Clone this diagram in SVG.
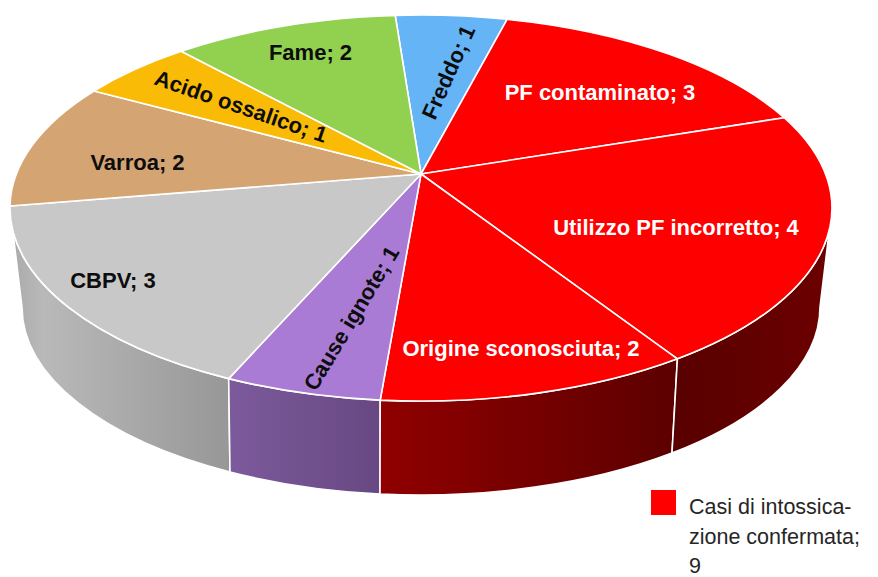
<svg xmlns="http://www.w3.org/2000/svg" width="878" height="577" viewBox="0 0 878 577">
<style>
  .sl { stroke: #ffffff; stroke-width: 1.6; stroke-linejoin: round; }
  .lb { font-family: "Liberation Sans", Arial, sans-serif; font-weight: bold; font-size: 22px; fill: #0d0d0d; }
  .lw { font-family: "Liberation Sans", Arial, sans-serif; font-weight: bold; font-size: 22px; fill: #ffffff; }
  .lg { font-family: "Liberation Sans", Arial, sans-serif; font-size: 21.5px; fill: #262626; }
</style>
<defs>
  <linearGradient id="gGray" x1="0" y1="0" x2="1" y2="0">
    <stop offset="0" stop-color="#a9a9a9"/>
    <stop offset="0.15" stop-color="#b9b9b9"/>
    <stop offset="1" stop-color="#979797"/>
  </linearGradient>
  <linearGradient id="gPurple" x1="0" y1="0" x2="1" y2="0">
    <stop offset="0" stop-color="#7c5a9c"/>
    <stop offset="1" stop-color="#684882"/>
  </linearGradient>
  <linearGradient id="gRed1" x1="0" y1="0" x2="1" y2="0">
    <stop offset="0" stop-color="#900000"/>
    <stop offset="1" stop-color="#5c0000"/>
  </linearGradient>
  <linearGradient id="gRed2" x1="0" y1="0" x2="1" y2="0">
    <stop offset="0" stop-color="#580000"/>
    <stop offset="1" stop-color="#6c0000"/>
  </linearGradient>
</defs>
<rect width="878" height="577" fill="#ffffff"/>

<g id="sides">
  <path class="sl" fill="url(#gGray)" d="M 10 208 L 22 307 A 399 188 0 0 0 230 472 L 228.7 378.6 A 411 193 0 0 1 10 208 Z"/>
  <path class="sl" fill="url(#gPurple)" d="M 228.7 378.6 L 230 472 A 399 188 0 0 0 380 494 L 380.2 400.1 A 411 193 0 0 1 228.7 378.6 Z"/>
  <path class="sl" fill="url(#gRed1)" d="M 380.2 400.1 L 380 494 A 399 188 0 0 0 672 453 L 677.4 358.8 A 411 193 0 0 1 380.2 400.1 Z"/>
  <path class="sl" fill="url(#gRed2)" d="M 677.4 358.8 L 672 453 A 399 188 0 0 0 820 307 L 832 208 A 411 193 0 0 1 677.4 358.8 Z"/>
</g>

<g id="slice-freddo">
  <path class="sl" fill="#64b4f6" d="M 421 174 L 395.2 15.4 A 411 193 0 0 1 507.1 19.3 Z"/>
  <text class="lb" transform="translate(448,72) rotate(-66)" x="0" y="8" text-anchor="middle">Freddo; 1</text>
</g>
<g id="slice-pf-contaminato">
  <path class="sl" fill="#fe0000" d="M 421 174 L 507.1 19.3 A 411 193 0 0 1 784.2 117.7 Z"/>
  <text class="lw" x="600" y="100" text-anchor="middle">PF contaminato; 3</text>
</g>
<g id="slice-utilizzo">
  <path class="sl" fill="#fe0000" d="M 421 174 L 784.2 117.7 A 411 193 0 0 1 677.4 358.8 Z"/>
  <text class="lw" x="676" y="235" text-anchor="middle">Utilizzo PF incorretto; 4</text>
</g>
<g id="slice-origine">
  <path class="sl" fill="#fe0000" d="M 421 174 L 677.4 358.8 A 411 193 0 0 1 380.2 400.1 Z"/>
  <text class="lw" x="521" y="356" text-anchor="middle">Origine sconosciuta; 2</text>
</g>
<g id="slice-cause-ignote">
  <path class="sl" fill="#aa7bd5" d="M 421 174 L 380.2 400.1 A 411 193 0 0 1 228.7 378.6 Z"/>
  <text class="lb" transform="translate(351,318) rotate(-59)" x="0" y="8" text-anchor="middle">Cause ignote; 1</text>
</g>
<g id="slice-cbpv">
  <path class="sl" fill="#c8c8c8" d="M 421 174 L 228.7 378.6 A 411 193 0 0 1 10 206 Z"/>
  <text class="lb" x="113" y="288" text-anchor="middle">CBPV; 3</text>
</g>
<g id="slice-varroa">
  <path class="sl" fill="#d5a473" d="M 421 174 L 10 206 A 411 193 0 0 1 94 91 Z"/>
  <text class="lb" x="137.5" y="170" text-anchor="middle">Varroa; 2</text>
</g>
<g id="slice-acido">
  <path class="sl" fill="#f9bb06" d="M 421 174 L 94 91 A 411 193 0 0 1 181.2 51.3 Z"/>
  <text class="lb" transform="translate(238.5,113.5) rotate(19)" x="0" y="0" text-anchor="middle">Acido ossalico; 1</text>
</g>
<g id="slice-fame">
  <path class="sl" fill="#92d050" d="M 421 174 L 181.2 51.3 A 411 193 0 0 1 395.2 15.4 Z"/>
  <text class="lb" x="310.5" y="60" text-anchor="middle">Fame; 2</text>
</g>

<g id="legend">
  <rect x="651" y="490" width="25" height="25" fill="#ff0000"/>
  <text class="lg" x="689" y="514">Casi di intossica-</text>
  <text class="lg" x="689" y="544">zione confermata;</text>
  <text class="lg" x="689" y="573">9</text>
</g>
</svg>
